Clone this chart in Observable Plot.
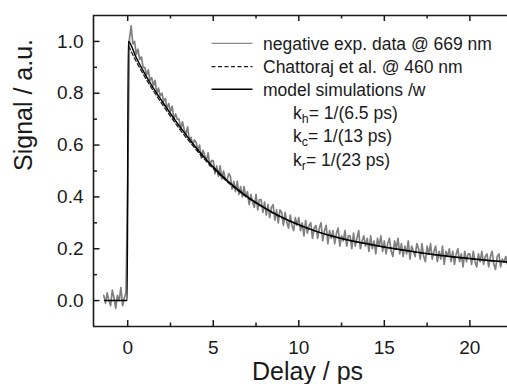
<!DOCTYPE html>
<html><head><meta charset="utf-8">
<script src="https://cdn.jsdelivr.net/npm/d3@7"></script>
<script src="https://cdn.jsdelivr.net/npm/@observablehq/plot@0.6"></script>
<style>body{margin:0;background:#fff} svg{display:block}</style>
</head><body><div id="chart"></div>
<script>
// experimental data, sampled every 0.1 ps starting at -1.4 ps
const expStart = -1.4, expStep = 0.1;
const expSignal = [
0.02,-0.01,0.03,0.00,-0.02,0.04,0.01,-0.03,0.02,0.00,0.05,-0.02,0.01,0.03,
0.45,
1.01,1.06,0.99,1.00,0.95,0.97,0.93,0.94,0.90,
0.90,0.87,0.89,0.85,0.86,0.83,0.85,0.80,0.82,0.79,
0.80,0.77,0.78,0.74,0.76,0.73,0.75,0.70,0.72,0.70,
0.70,0.66,0.69,0.66,0.64,0.67,0.62,0.63,0.60,0.62,
0.61,0.58,0.60,0.55,0.58,0.56,0.54,0.57,0.52,0.54,
0.54,0.49,0.52,0.48,0.52,0.47,0.50,0.47,0.46,0.49,
0.48,0.43,0.46,0.42,0.46,0.41,0.44,0.40,0.44,0.40,
0.42,0.37,0.41,0.38,0.36,0.41,0.35,0.39,0.39,0.34,
0.38,0.33,0.37,0.32,0.36,0.37,0.31,0.35,0.30,0.35,
0.34,0.29,0.34,0.30,0.28,0.33,0.29,0.27,0.32,0.29,
0.32,0.27,0.30,0.25,0.31,0.26,0.29,0.30,0.24,0.28,
0.29,0.24,0.28,0.30,0.23,0.27,0.29,0.22,0.27,0.24,
0.27,0.22,0.26,0.28,0.21,0.25,0.23,0.27,0.21,0.25,
0.25,0.20,0.26,0.21,0.24,0.27,0.20,0.23,0.25,0.21,
0.24,0.19,0.25,0.20,0.23,0.18,0.24,0.21,0.25,0.19,
0.23,0.18,0.22,0.24,0.19,0.17,0.23,0.20,0.24,0.18,
0.22,0.17,0.21,0.18,0.23,0.16,0.21,0.19,0.17,0.22,
0.20,0.16,0.22,0.17,0.15,0.21,0.18,0.22,0.16,0.19,
0.21,0.15,0.19,0.16,0.21,0.14,0.19,0.17,0.20,0.15,
0.19,0.14,0.18,0.20,0.15,0.18,0.13,0.19,0.15,0.18,
0.18,0.14,0.19,0.15,0.13,0.18,0.15,0.19,0.14,0.17,
0.18,0.13,0.17,0.19,0.14,0.12,0.17,0.18,0.13,0.16,
0.15,0.17,0.14
];
const modelTime   = [-1.35,-0.03,0.03,0.5,1,1.5,2,3,4,5,6,7,8,9,10,11,12,13,14,15,16,17,18,19,20,21,22,22.2];
const modelSignal = [0,0,1.0,0.937,0.875,0.82,0.77,0.675,0.59,0.515,0.452,0.40,0.358,0.322,0.293,0.268,0.248,0.232,0.219,0.207,0.196,0.186,0.177,0.169,0.162,0.156,0.150,0.149];
const chattTime   = [0.05,0.5,1,2,3,4,5,6,7,8,9,10,12,14,16,18,20,22.2];
const chattSignal = [0.982,0.922,0.863,0.759,0.665,0.582,0.509,0.448,0.397,0.356,0.32,0.291,0.247,0.218,0.195,0.176,0.161,0.148];

const xMajorTicks = [0,5,10,15,20];
const xMinorTicks = [2.5,7.5,12.5,17.5];
const yMajorTicks = [0,0.2,0.4,0.6,0.8,1.0];
const yMinorTicks = [0.1,0.3,0.5,0.7,0.9];
const xLabel = "Delay / ps";
const yLabel = "Signal / a.u.";
const legendLabels = ["negative exp. data @ 669 nm","Chattoraj et al. @ 460 nm","model simulations /w"];
const rateNames = ["h","c","r"];
const rateTexts = ["= 1/(6.5 ps)","= 1/(13 ps)","= 1/(23 ps)"];

const expData = expSignal.map((v,i)=>({t: expStart + i*expStep, v}));
const modelData = modelTime.map((t,i)=>({t, v: modelSignal[i]}));
const chattData = chattTime.map((t,i)=>({t, v: chattSignal[i]}));

const W = 507, H = 384, mL = 93, mR = 0, mT = 15, mB = 58;
const pw = W - mL - mR, ph = H - mT - mB;
const font = "'Liberation Sans', Arial, Helvetica, sans-serif";
const ink = "#1a1a1a";

const plot = Plot.plot({
  width: W, height: H,
  marginLeft: mL, marginRight: mR, marginTop: mT, marginBottom: mB,
  style: {fontFamily: font, background: "#fff", color: ink},
  x: {domain: [-2, 22.2]},
  y: {domain: [-0.1, 1.1]},
  marks: [
    Plot.axisX({ticks: xMajorTicks, tickSize: 0, tickPadding: 14, fontSize: 19, label: null, tickFormat: d=>String(d)}),
    Plot.axisY({ticks: yMajorTicks, tickSize: 0, tickPadding: 10, fontSize: 19, label: null, tickFormat: d=>d.toFixed(1)}),
    Plot.line(expData, {x: "t", y: "v", stroke: "#808080", strokeWidth: 1.7, clip: true}),
    Plot.line(chattData, {x: "t", y: "v", stroke: ink, strokeWidth: 1.2, strokeDasharray: "4,2.5", curve: "monotone-x", clip: true}),
    Plot.line(modelData, {x: "t", y: "v", stroke: "#000", strokeWidth: 1.5, curve: "monotone-x", clip: true}),
    // frame (right side is cropped in reference)
    Plot.ruleY([-0.1], {stroke: ink, strokeWidth: 1.6}),
    Plot.ruleY([1.1], {stroke: ink, strokeWidth: 1.6}),
    Plot.ruleX([-2], {stroke: ink, strokeWidth: 1.6}),
    // inward ticks
    Plot.tickX(xMajorTicks, {x: d=>d, insetTop: ph - 6, stroke: ink, strokeWidth: 1.5}),
    Plot.tickX(xMinorTicks, {x: d=>d, insetTop: ph - 3.5, stroke: ink, strokeWidth: 1.5}),
    Plot.tickX(xMajorTicks, {x: d=>d, insetBottom: ph - 6, stroke: ink, strokeWidth: 1.5}),
    Plot.tickX(xMinorTicks, {x: d=>d, insetBottom: ph - 3.5, stroke: ink, strokeWidth: 1.5}),
    Plot.tickY(yMajorTicks, {y: d=>d, insetRight: pw - 6.5, stroke: ink, strokeWidth: 1.5}),
    Plot.tickY(yMinorTicks, {y: d=>d, insetRight: pw - 4, stroke: ink, strokeWidth: 1.5}),
    // axis titles
    Plot.text([xLabel], {frameAnchor: "bottom", dx: 7, dy: 45, text: d=>d, fontSize: 25, lineAnchor: "middle", fill: ink}),
    Plot.text([yLabel], {frameAnchor: "left", dx: -70, rotate: -90, text: d=>d, fontSize: 25, lineAnchor: "middle", fill: ink})
  ]
});

const svg = d3.select(plot);
const lg = svg.append("g").attr("font-family", font).attr("fill", ink).attr("text-anchor", "start");
const lineY = [43.3, 66.7, 89.3];
const styles = [{s:"#8a8a8a", d:null, w:1.3},{s:ink, d:"4,2.5", w:1.2},{s:"#000", d:null, w:1.5}];
legendLabels.forEach((lab,i)=>{
  lg.append("line").attr("x1",211.5).attr("x2",252.5).attr("y1",lineY[i]).attr("y2",lineY[i])
    .attr("stroke",styles[i].s).attr("stroke-width",styles[i].w).attr("stroke-dasharray",styles[i].d);
  lg.append("text").attr("x",263).attr("y",lineY[i]+6.3).attr("font-size",17.5)
    .attr("text-anchor","start").attr("fill",ink).text(lab);
});
const rateBase = [122.5, 146, 169.5];
rateNames.forEach((n,i)=>{
  const t = lg.append("text").attr("x",293).attr("y",rateBase[i]-4).attr("font-size",17.5)
    .attr("text-anchor","start").attr("fill",ink);
  t.append("tspan").attr("fill",ink).text("k");
  t.append("tspan").attr("fill",ink).attr("font-size",12.5).attr("dy",4).text(n);
  t.append("tspan").attr("fill",ink).attr("dy",-4).text(rateTexts[i]);
});

document.getElementById("chart").appendChild(plot);
</script>
</body></html>
